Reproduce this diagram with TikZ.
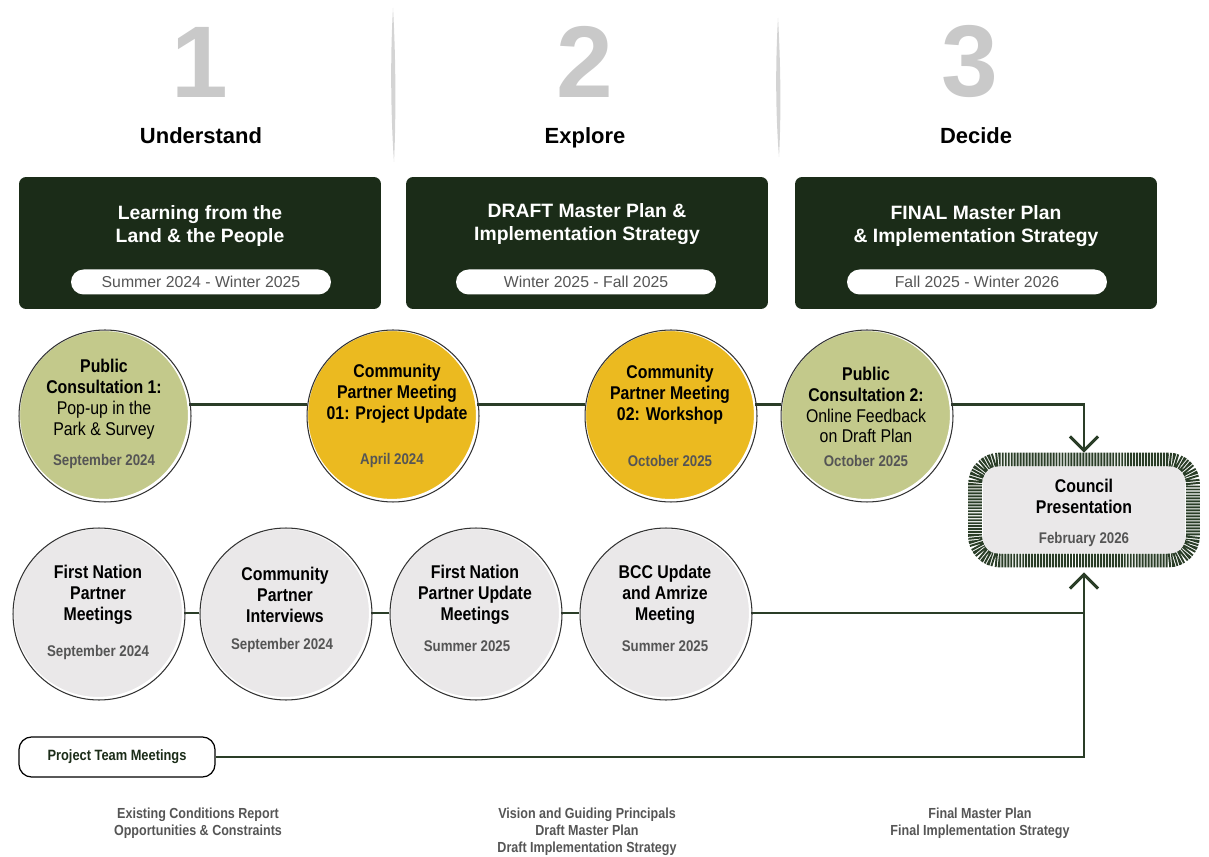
\documentclass[tikz,border=0pt]{standalone}
\usepackage{fontspec}
\setmainfont{Liberation Sans}
\newfontfamily\franklin[FakeStretch=0.86]{Liberation Sans}
\usetikzlibrary{arrows.meta,calc,positioning}

\definecolor{boxgreen}{HTML}{1B2C18}
\definecolor{linegreen}{HTML}{2A3D27}
\definecolor{pubgreen}{HTML}{C3C98B}
\definecolor{meetyellow}{HTML}{EBBA20}
\definecolor{partgrey}{HTML}{EAE8E9}
\definecolor{numgrey}{HTML}{C9C9C9}
\definecolor{dategrey}{HTML}{555555}

\tikzset{
  bignum/.style={font=\bfseries\fontsize{58}{58}\selectfont, text=numgrey},
  phase/.style={anchor=base, font=\bfseries\fontsize{12.5}{14}\selectfont},
  phasebox/.style={fill=boxgreen, rounded corners=4pt, minimum width=7.24cm, minimum height=2.64cm},
  boxtitle/.style={align=center, text=white, font=\bfseries\fontsize{11}{13.6}\selectfont},
  pill/.style={fill=white, rounded corners=0.25cm, minimum width=5.2cm, minimum height=0.5cm, inner sep=0pt, text=dategrey, font=\fontsize{9}{10}\selectfont},
  stagecirc/.style={circle, minimum size=3.4cm, inner sep=0pt, draw=white, line width=1.2pt},
  pubcirc/.style={stagecirc, fill=pubgreen},
  meetcirc/.style={stagecirc, fill=meetyellow},
  partcirc/.style={stagecirc, fill=partgrey},
  rim/.style={draw=black!80, line width=0.6pt},
  circtxt/.style={align=center, font=\franklin\fontsize{10.5}{11.9}\selectfont},
  boldtxt/.style={circtxt, font=\franklin\bfseries\fontsize{10.5}{11.9}\selectfont},
  datetxt/.style={text=dategrey, font=\franklin\bfseries\fontsize{8.8}{10}\selectfont},
  conn/.style={draw=linegreen, line width=1.5pt},
  chevron/.style={-{Straight Barb[length=8pt, width=16pt, line width=1.7pt]}},
  councilband/.style={draw=linegreen, line width=7.9pt, dash pattern=on 1.1pt off 0.6pt, rounded corners=0.5cm, minimum width=4.36cm, minimum height=2.02cm},
  councilin/.style={fill=partgrey, rounded corners=0.3cm, minimum width=4.04cm, minimum height=1.74cm},
  teambox/.style={draw=black, line width=0.7pt, fill=white, rounded corners=0.25cm, minimum width=3.92cm, minimum height=0.8cm, text=boxgreen, font=\franklin\bfseries\fontsize{8.5}{10}\selectfont},
  deliverable/.style={align=center, text=dategrey, font=\franklin\bfseries\fontsize{8.3}{9.6}\selectfont},
  divider/.style={fill=numgrey!80},
}

\begin{document}
\begin{tikzpicture}[x=0.02cm, y=-0.02cm]
    \useasboundingbox (0,0) rectangle (1209,857);

    %%%%% PHASES %%%%%
    \node[bignum] (n1) at (200,62) {1};
    \node[bignum] (n2) at (585,62) {2};
    \node[bignum] (n3) at (970,62) {3};

    \node[phase] (p1) at (201,144) {Understand};
    \node[phase] (p2) at (585,144) {Explore};
    \node[phase] (p3) at (976,144) {Decide};

    \fill[divider] (393,8) .. controls (396,60) and (396,120) .. (394,162) .. controls (391,120) and (390,60) .. (393,8);
    \fill[divider] (778,18) .. controls (781,70) and (781,120) .. (779,157) .. controls (776,120) and (775,70) .. (778,18);

    \node[phasebox] (b1) at (200,243) {};
    \node[boxtitle] (t1) at (200,226) {Learning from the\\Land \& the People};
    \node[pill] (d1) at (201,282) {Summer 2024 - Winter 2025};

    \node[phasebox] (b2) at (587,243) {};
    \node[boxtitle] (t2) at (587,224) {DRAFT Master Plan \&\\Implementation Strategy};
    \node[pill] (d2) at (586,282) {Winter 2025 - Fall 2025};

    \node[phasebox] (b3) at (976,243) {};
    \node[boxtitle] (t3) at (976,226) {FINAL Master Plan\\\& Implementation Strategy};
    \node[pill] (d3) at (977,282) {Fall 2025 - Winter 2026};

    %%%%% COUNCIL %%%%%
    \node[councilband] (council) at (1084,510) {};
    \node[councilin] (councilfill) at (council) {};
    \node[boldtxt] (councilt) at (1084,496) {Council\\Presentation};
    \node[datetxt] (councild) at (1084,540) {February 2026};

    %%%%% PUBLIC ROW %%%%%
    \node[pubcirc] (c1) at (104,415) {};
    \node[meetcirc] (c2) at (392,415) {};
    \node[meetcirc] (c3) at (670,415) {};
    \node[pubcirc] (c4) at (866,415) {};

    \draw[conn] (c1.7) -- (c2.173);
    \draw[conn] (c2.7) -- (c3.173);
    \draw[conn] (c3.7) -- (c4.173);
    \draw[conn, chevron] (c4.7) -- (c4.7 -| council.north) -- (council.north);

    \draw[rim] ($(c1)+(1,1)$) circle (1.72cm);
    \draw[rim] ($(c2)+(1,1)$) circle (1.72cm);
    \draw[rim] ($(c3)+(1,1)$) circle (1.72cm);
    \draw[rim] ($(c4)+(1,1)$) circle (1.72cm);

    \node[circtxt] (c1t) at (104,399) {\textbf{Public}\\\textbf{Consultation 1:}\\Pop-up in the\\Park \& Survey};
    \node[datetxt] (c1d) at (104,462) {September 2024};
    \node[boldtxt] (c2t) at (397,394) {Community\\Partner Meeting\\01: Project Update};
    \node[datetxt] (c2d) at (392,461) {April 2024};
    \node[boldtxt] (c3t) at (670,395) {Community\\Partner Meeting\\02: Workshop};
    \node[datetxt] (c3d) at (670,461) {October 2025};
    \node[circtxt] (c4t) at (866,405) {\textbf{Public}\\\textbf{Consultation 2:}\\Online Feedback\\on Draft Plan};
    \node[datetxt] (c4d) at (866,461) {October 2025};

    %%%%% PARTNER ROW %%%%%
    \node[partcirc] (c5) at (98,613) {};
    \node[partcirc] (c6) at (285,613) {};
    \node[partcirc] (c7) at (475,613) {};
    \node[partcirc] (c8) at (665,613) {};

    \draw[conn] (c5.east) -- (c6.west);
    \draw[conn] (c6.east) -- (c7.west);
    \draw[conn] (c7.east) -- (c8.west);
    \draw[conn] (c8.east) -- (c8.east -| council.south);

    \draw[rim] ($(c5)+(1,1)$) circle (1.72cm);
    \draw[rim] ($(c6)+(1,1)$) circle (1.72cm);
    \draw[rim] ($(c7)+(1,1)$) circle (1.72cm);
    \draw[rim] ($(c8)+(1,1)$) circle (1.72cm);

    \node[boldtxt] (c5t) at (98,595) {First Nation\\Partner\\Meetings};
    \node[datetxt] (c5d) at (98,652) {September 2024};
    \node[boldtxt] (c6t) at (285,595) {Community\\Partner\\Interviews};
    \node[datetxt] (c6d) at (282,646) {September 2024};
    \node[boldtxt] (c7t) at (475,595) {First Nation\\Partner Update\\Meetings};
    \node[datetxt] (c7d) at (467,646) {Summer 2025};
    \node[boldtxt] (c8t) at (665,595) {BCC Update\\and Amrize\\Meeting};
    \node[datetxt] (c8d) at (665,646) {Summer 2025};

    %%%%% PROJECT TEAM %%%%%
    \node[teambox] (team) at (117,757) {Project Team Meetings};
    \draw[conn, chevron] (team.east) -- (team.east -| council.south) -- ($(council.south)+(0,5)$);

    %%%%% DELIVERABLES %%%%%
    \node[deliverable] (o1) at (198,823) {Existing Conditions Report\\Opportunities \& Constraints};
    \node[deliverable] (o2) at (587,832) {Vision and Guiding Principals\\Draft Master Plan\\Draft Implementation Strategy};
    \node[deliverable] (o3) at (980,823) {Final Master Plan\\Final Implementation Strategy};
\end{tikzpicture}
\end{document}
